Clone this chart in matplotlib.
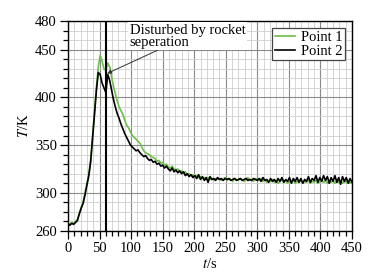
import numpy as np
from matplotlib import pyplot as plt
from matplotlib.ticker import MultipleLocator

# sample times (s), one reading every 3 s
time = np.arange(0, 451, 3)

point1 = [
    268, 267, 269, 268, 270, 272, 279, 285, 290, 300,
    310, 320, 335, 360, 385, 410, 432, 444, 438, 430,
    428, 436, 432, 422, 412, 404, 396, 390, 386, 382,
    376, 371, 368, 364, 360, 358, 356, 354, 352, 348,
    344, 342, 341, 340, 338, 337, 336, 333, 334, 331,
    332, 329, 330, 327, 326, 328, 325, 324, 325, 322,
    323, 321, 322, 319, 320, 318, 319, 317, 318, 316,
    317, 315, 316, 314, 316, 314, 315, 313, 315, 314,
    315, 313, 314, 316, 313, 315, 314, 312, 315, 314,
    313, 315, 314, 312, 314, 316, 313, 314, 312, 315,
    314, 313, 315, 312, 314, 311, 313, 312, 314, 311,
    313, 310, 312, 314, 311, 313, 310, 312, 311, 313,
    310, 312, 311, 313, 310, 312, 311, 314, 310, 312,
    311, 313, 310, 312, 314, 311, 313, 310, 312, 311,
    313, 310, 312, 311, 313, 310, 312, 311, 313, 310,
    311,
]

point2 = [
    268, 266, 268, 267, 269, 271, 278, 284, 289, 298,
    308, 318, 333, 357, 382, 407, 426, 424, 415, 410,
    405, 424, 418, 408, 398, 390, 383, 378, 372, 367,
    362, 358, 354, 350, 348, 346, 344, 345, 342, 340,
    338, 339, 336, 334, 335, 332, 333, 330, 331, 328,
    329, 326, 328, 325, 323, 326, 322, 324, 321, 323,
    320, 322, 318, 320, 317, 319, 316, 318, 315, 319,
    314, 317, 313, 316, 311, 317, 314, 315, 313, 316,
    314, 315, 313, 315, 314, 315, 313, 314, 315, 313,
    314, 315, 313, 314, 315, 313, 314, 313, 315, 314,
    313, 315, 312, 316, 313, 314, 311, 315, 312, 314,
    311, 315, 312, 316, 311, 314, 312, 316, 310, 315,
    312, 316, 311, 315, 310, 314, 312, 317, 311, 315,
    313, 318, 311, 316, 312, 318, 313, 317, 310, 316,
    312, 318, 311, 316, 309, 317, 312, 316, 310, 315,
    311,
]

t_sep = 61            # rocket separation instant
arrow_tip = (62, 425)

plt.rcParams['font.family'] = ['Liberation Serif', 'DejaVu Serif']
plt.rcParams['mathtext.fontset'] = 'stix'

fig = plt.figure(figsize=(3.83, 2.78), dpi=100)
ax = fig.add_axes([0.1775, 0.169, 0.7415, 0.7555])

ax.plot(time, point1, color='#6cbf48', lw=1.2, label='Point 1', zorder=3)
ax.plot(time, point2, color='black', lw=1.2, label='Point 2', zorder=4)
ax.axvline(t_sep, color='black', lw=1.5, zorder=5)

ax.set_xlim(0, 450)
ax.set_ylim(260, 480)
ax.set_xticks(range(0, 451, 50))
ax.set_yticks([260, 300, 350, 400, 450, 480])
ax.xaxis.set_minor_locator(MultipleLocator(10))
ax.yaxis.set_minor_locator(MultipleLocator(10))
ax.grid(which='major', color='#8a8a8a', lw=0.8, zorder=0)
ax.grid(which='minor', color='#cfcfcf', lw=0.6, zorder=0)
ax.set_axisbelow(True)
ax.tick_params(which='both', direction='out', labelsize=10.5, width=0.9, pad=2)
ax.tick_params(which='major', length=6)
ax.tick_params(which='minor', length=3.5)
for s in ax.spines.values():
    s.set_linewidth(1.0)

ax.set_xlabel('$t$/s', fontsize=10.5, labelpad=1)
ax.set_ylabel('$T$/K', fontsize=10.5, labelpad=3)

ax.annotate('Disturbed by rocket\nseperation', xy=arrow_tip, xytext=(98, 477),
            ha='left', va='top', fontsize=10.5, linespacing=0.9,
            bbox=dict(boxstyle='square,pad=0.1', fc='white', ec='none'),
            arrowprops=dict(arrowstyle='-|>', color='#333333', lw=0.7,
                            mutation_scale=6, shrinkA=0, shrinkB=0),
            zorder=6)

leg = ax.legend(loc='upper right', fontsize=10.5, handlelength=1.4,
                borderaxespad=0.5, borderpad=0.15, labelspacing=0.05,
                handletextpad=0.4, fancybox=False, framealpha=1)
leg.get_frame().set_edgecolor('#444444')
leg.get_frame().set_linewidth(0.9)

plt.savefig('out.png', dpi=100)
